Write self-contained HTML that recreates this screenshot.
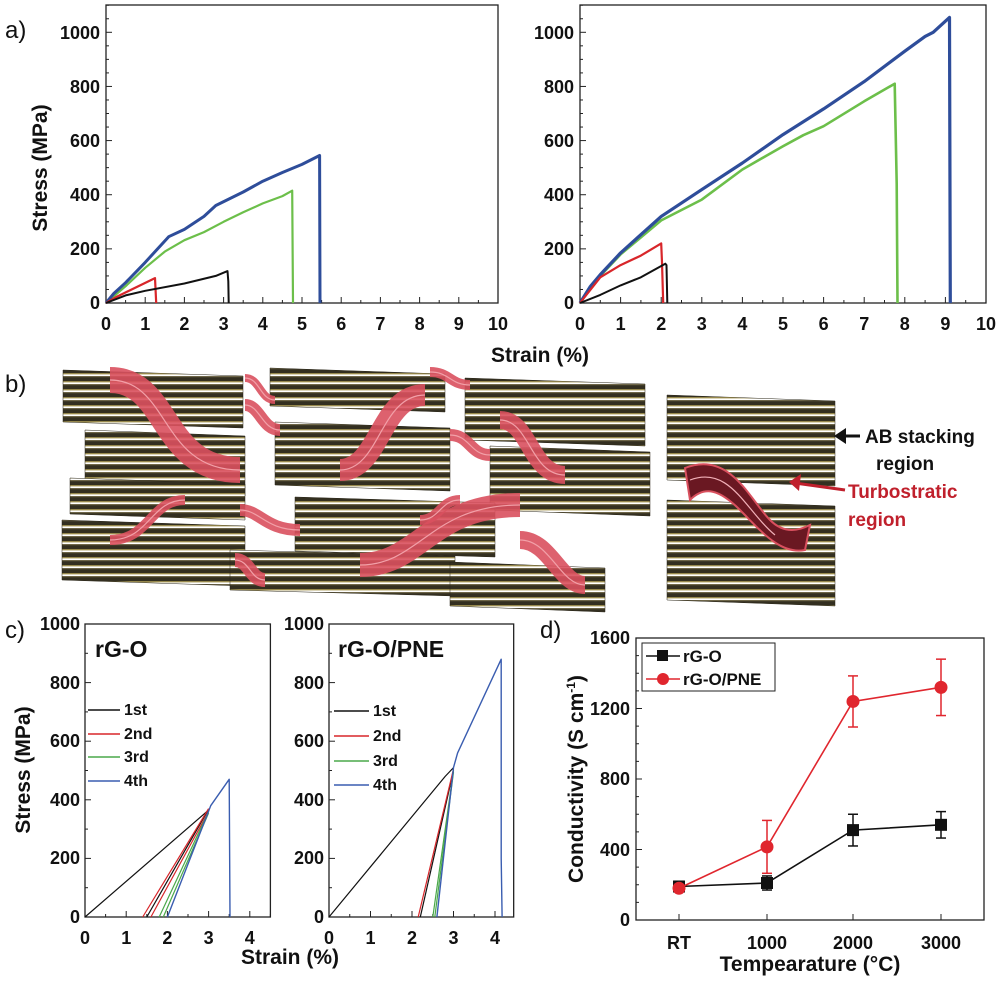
<!DOCTYPE html>
<html><head><meta charset="utf-8">
<style>
html,body{margin:0;padding:0;background:#fff;}
svg{display:block;font-family:"Liberation Sans",Arial,sans-serif;font-weight:bold;}
</style></head>
<body>
<svg id="s" width="1000" height="982" viewBox="0 0 1000 982" xmlns="http://www.w3.org/2000/svg">
<defs>
<pattern id="pl" width="10" height="8" patternUnits="userSpaceOnUse">
<rect width="10" height="8" fill="#fff"/>
<rect y="0" width="10" height="6.3" fill="#332f20"/>
<rect y="0" width="10" height="1.2" fill="#6e6648"/>
<rect y="5.4" width="10" height="0.9" fill="#d9c46a"/>
</pattern>
</defs>
<g id="g"></g>
<text x="5" y="38" font-size="24" font-weight="normal" fill="#111">a)</text>
<g font-size="18" fill="#111" text-anchor="end">
<text x="100" y="39">1000</text><text x="100" y="93">800</text><text x="100" y="147">600</text><text x="100" y="201">400</text><text x="100" y="255">200</text><text x="100" y="309">0</text>
<text x="574" y="39">1000</text><text x="574" y="93">800</text><text x="574" y="147">600</text><text x="574" y="201">400</text><text x="574" y="255">200</text><text x="574" y="309">0</text>
</g>
<g id="axl" font-size="18" fill="#111" text-anchor="middle"></g>
<text transform="translate(47,168) rotate(-90)" font-size="21" text-anchor="middle" fill="#111">Stress (MPa)</text>
<text x="540" y="362" font-size="21" text-anchor="middle" fill="#111">Strain (%)</text>
<text x="5" y="392" font-size="24" font-weight="normal" fill="#111">b)</text>
<text x="865" y="443" font-size="19" fill="#111">AB stacking</text>
<text x="876" y="470" font-size="19" fill="#111">region</text>
<text x="848" y="498" font-size="19" fill="#c0202c">Turbostratic</text>
<text x="848" y="526" font-size="19" fill="#c0202c">region</text>
<text x="5" y="638" font-size="24" font-weight="normal" fill="#111">c)</text>
<g font-size="18" fill="#111" text-anchor="end">
<text x="80" y="630">1000</text><text x="80" y="689">800</text><text x="80" y="747">600</text><text x="80" y="806">400</text><text x="80" y="864">200</text><text x="80" y="923">0</text>
<text x="324" y="630">1000</text><text x="324" y="689">800</text><text x="324" y="747">600</text><text x="324" y="806">400</text><text x="324" y="864">200</text><text x="324" y="923">0</text>
</g>
<text transform="translate(30,770) rotate(-90)" font-size="21" text-anchor="middle" fill="#111">Stress (MPa)</text>
<text x="290" y="964" font-size="21" text-anchor="middle" fill="#111">Strain (%)</text>
<text x="95" y="657" font-size="23" fill="#111">rG-O</text>
<text x="338" y="657" font-size="23" fill="#111">rG-O/PNE</text>
<g font-size="16" fill="#111">
<text x="124" y="715">1st</text><text x="124" y="739">2nd</text><text x="124" y="762">3rd</text><text x="124" y="786">4th</text>
<text x="373" y="716">1st</text><text x="373" y="741">2nd</text><text x="373" y="766">3rd</text><text x="373" y="790">4th</text>
</g>
<text x="540" y="638" font-size="24" font-weight="normal" fill="#111">d)</text>
<g font-size="18" fill="#111" text-anchor="end">
<text x="630" y="644">1600</text><text x="630" y="715">1200</text><text x="630" y="785">800</text><text x="630" y="856">400</text><text x="630" y="926">0</text>
</g>
<g font-size="18" fill="#111" text-anchor="middle">
<text x="679" y="949">RT</text><text x="767" y="949">1000</text><text x="853" y="949">2000</text><text x="941" y="949">3000</text>
</g>
<text x="810" y="971" font-size="21" text-anchor="middle" fill="#111">Tempearature (°C)</text>
<text transform="translate(583,779) rotate(-90)" font-size="21" text-anchor="middle" fill="#111">Conductivity (S cm<tspan dy="-8" font-size="12">-1</tspan><tspan dy="8">)</tspan></text>
<g font-size="17" fill="#111">
<text x="683" y="662">rG-O</text><text x="683" y="685">rG-O/PNE</text>
</g>
</svg>
<script>
var NS="http://www.w3.org/2000/svg",G=document.getElementById('g');
function el(t,a){var e=document.createElementNS(NS,t);for(var k in a)e.setAttribute(k,a[k]);G.appendChild(e);return e;}
function line(x1,y1,x2,y2,c,w){el('line',{x1:x1,y1:y1,x2:x2,y2:y2,stroke:c||'#111','stroke-width':w||1});}
function poly(pts,c,w,mx){var d=pts.map(function(p){return mx(p)}).map(function(p){return p[0].toFixed(1)+','+p[1].toFixed(1)}).join(' ');el('polyline',{points:d,fill:'none',stroke:c,'stroke-width':w,'stroke-linejoin':'round'});}
function frame(x0,y0,x1,y1){el('rect',{x:x0,y:y0,width:x1-x0,height:y1-y0,fill:'none',stroke:'#222','stroke-width':1.3});}
function panelA(x0,xs,curves){
 var y0=303,ys=0.2707;frame(x0,5,x0+10*xs,303);
 for(var v=0;v<=1100;v+=50){var y=y0-v*ys;line(x0,y,x0+(v%200==0?6:3),y,'#222',1);}
 for(var i=0;i<=20;i++){var x=x0+i*xs/2;line(x,y0,x,y0-(i%2==0?6:3),'#222',1);}
 var m=function(p){return [x0+p[0]*xs,y0-p[1]*ys]};
 curves.forEach(function(c){poly(c[0],c[1],c[2],m);});
 var L=document.getElementById('axl');
 for(var i=0;i<=10;i++){var t=document.createElementNS(NS,'text');t.setAttribute('x',x0+i*xs);t.setAttribute('y',330);t.textContent=i;L.appendChild(t);}
}
var BL='#2e4d9a',GR='#6cbf4a',RD='#d8262a',BK='#111';
panelA(106,39.2,[
 [[[0,0],[0.5,62],[1,130],[1.5,190],[2,232],[2.5,262],[3,300],[3.5,335],[4,368],[4.5,395],[4.75,415],[4.77,0]],GR,2.2],
 [[[0,0],[0.2,35],[0.5,75],[1,150],[1.6,245],[2,272],[2.5,320],[2.8,360],[3.5,410],[4,450],[4.5,482],[5,512],[5.45,545],[5.46,0]],BL,3],
 [[[0,0],[0.3,25],[1.25,92],[1.28,0]],RD,2.2],
 [[[0,0],[0.5,28],[1,45],[2,72],[2.8,100],[3.1,118],[3.12,80],[3.13,0]],BK,2]
]);
panelA(580,40.6,[
 [[[0,0],[0.25,60],[0.5,100],[1,180],[2,305],[3,382],[4,493],[4.6,545],[5,579],[5.5,620],[6,653],[7,745],[7.75,810],[7.8,440],[7.82,0]],GR,2.6],
 [[[0,0],[0.25,60],[0.5,105],[1,185],[2,320],[3,419],[4,517],[5,622],[6,717],[7,818],[8,930],[8.5,985],[8.7,1000],[9.1,1055],[9.12,0]],BL,3.2],
 [[[0,0],[0.5,95],[1,140],[1.5,175],[2,220],[2.02,150],[2.05,0]],RD,2.2],
 [[[0,0],[0.5,30],[1,65],[1.5,95],[2.1,145],[2.13,140],[2.15,0]],BK,2]
]);
function stack(x,y,w,h,sk){var s=sk||6;el('polygon',{points:[x,y,x+w,y+s,x+w,y+h+s,x,y+h].join(' '),fill:'url(#pl)',stroke:'#2a2618','stroke-width':0.5});}
function band(d,w){el('path',{d:d,fill:'none',stroke:'#d9505e','stroke-width':w||14,'stroke-opacity':0.9});el('path',{d:d,fill:'none',stroke:'#f2a0a8','stroke-width':1.2});}
stack(63,370,180,52);stack(270,368,175,38);stack(465,378,180,62);
stack(85,430,160,60);stack(275,422,175,63);stack(490,446,160,64);
stack(70,478,175,36);
stack(62,520,183,60);stack(295,497,200,54);stack(230,550,225,40);stack(450,562,155,44);
band('M110,380 C170,380 160,470 240,470',26);band('M340,470 C380,470 380,395 425,395',22);
band('M245,378 C260,378 260,400 275,400',8);band('M430,372 C450,372 450,385 470,385',10);
band('M245,405 C260,405 262,430 280,430',12);band('M450,435 C470,435 470,455 490,455',12);
band('M500,420 C530,420 530,475 565,475',18);band('M110,540 C150,540 150,500 185,500',10);
band('M240,510 C260,510 265,530 300,530',12);band('M235,560 C250,560 250,580 265,580',14);
band('M360,565 C420,565 430,505 520,505',24);band('M520,540 C550,540 560,585 585,585',18);
band('M420,520 C440,520 440,500 460,500',10);
stack(667,395,168,85,0);stack(667,500,168,100,0);
el('path',{d:'M685,468 C730,450 750,500 770,520 C785,535 800,530 810,525 L805,550 C780,555 760,530 740,510 C720,490 705,485 690,500 Z',fill:'#6a1822',stroke:'#d9505e','stroke-width':2});
el('path',{d:'M690,480 C730,465 745,510 775,535',fill:'none',stroke:'#f2b0b8','stroke-width':1.2});
el('path',{d:'M860,436 L838,436',stroke:'#111','stroke-width':3});el('polygon',{points:'834,436 846,428 846,444',fill:'#111'});
el('path',{d:'M845,490 L795,483',stroke:'#c0202c','stroke-width':3});el('polygon',{points:'789,482 801,474 799,491',fill:'#c0202c'});
function panelC(x0,xs,xmax,curves){
 var y0=917,ys=0.293;frame(x0,624,x0+xmax*xs,917);
 for(var v=0;v<=1000;v+=100){var y=y0-v*ys;line(x0,y,x0+(v%200==0?6:3),y,'#222',1);}
 for(var i=0;i<=xmax*2;i++){var x=x0+i*xs/2;line(x,y0,x,y0-(i%2==0?6:3),'#222',1);}
 var m=function(p){return [x0+p[0]*xs,y0-p[1]*ys]};
 curves.forEach(function(c){poly(c[0],c[1],c[2],m);});
 var L=document.getElementById('axl');
 for(var i=0;i<=4;i++){var t=document.createElementNS(NS,'text');t.setAttribute('x',x0+i*xs);t.setAttribute('y',944);t.textContent=i;L.appendChild(t);}
}
var CB='#3a5db0',CG='#4aa84a',CR='#d8262a';
panelC(85,41.2,4.5,[
 [[[0,0],[3,365]],BK,1.2],[[[1.5,0],[3,368]],BK,1.2],
 [[[1.4,0],[3,370]],CR,1.2],[[[1.6,0],[3,360]],CR,1.2],
 [[[1.8,0],[3,360]],CG,1.2],[[[1.9,0],[3,355]],CG,1.2],
 [[[2.0,0],[3.05,380],[3.5,470],[3.52,0]],CB,1.4]
]);
panelC(329,41.5,4.45,[
 [[[0,0],[2.8,480],[3,510]],BK,1.2],[[[2.2,0],[3,500]],BK,1.2],
 [[[2.15,0],[3,505]],CR,1.2],
 [[[2.5,0],[3,500]],CG,1.2],[[[2.55,0],[3,495]],CG,1.2],
 [[[2.6,0],[3,510],[3.1,560],[4.15,880],[4.15,200],[4.17,0]],CB,1.4]
]);
line(88,710,120,710,BK,1.5);line(88,734,120,734,CR,1.5);line(88,757,120,757,CG,1.5);line(88,781,120,781,CB,1.5);
line(334,711,369,711,BK,1.5);line(334,736,369,736,CR,1.5);line(334,761,369,761,CG,1.5);line(334,785,369,785,CB,1.5);
(function(){
 var y0=920,ys=0.17625;frame(636,638,984,920);
 for(var v=0;v<=1600;v+=100){var y=y0-v*ys;line(636,y,636+(v%400==0?6:3),y,'#222',1);}
 var xs=[679,767,853,941];xs.forEach(function(x){line(x,y0,x,y0-6,'#222',1);});
 function ser(vals,errs,col,mk){
  var pts=vals.map(function(v,i){return [xs[i],y0-v*ys]});
  el('polyline',{points:pts.map(function(p){return p.join(',')}).join(' '),fill:'none',stroke:col,'stroke-width':1.6});
  pts.forEach(function(p,i){var e=errs[i]*ys;line(p[0],p[1]-e,p[0],p[1]+e,col,1.5);line(p[0]-5,p[1]-e,p[0]+5,p[1]-e,col,1.5);line(p[0]-5,p[1]+e,p[0]+5,p[1]+e,col,1.5);
   if(mk=='s')el('rect',{x:p[0]-6,y:p[1]-6,width:12,height:12,fill:col});else el('circle',{cx:p[0],cy:p[1],r:6.5,fill:col});});
 }
 ser([190,210,510,540],[30,40,90,75],'#111','s');
 ser([180,415,1240,1320],[20,150,145,160],'#e0262e','c');
 el('rect',{x:642,y:643,width:133,height:48,fill:'#fff',stroke:'#222','stroke-width':1});
 line(646,656,680,656,'#111',1.5);el('rect',{x:657,y:650,width:11,height:11,fill:'#111'});
 line(646,679,680,679,'#e0262e',1.5);el('circle',{cx:663,cy:679,r:6,fill:'#e0262e'});
})();
</script>
</body></html>
